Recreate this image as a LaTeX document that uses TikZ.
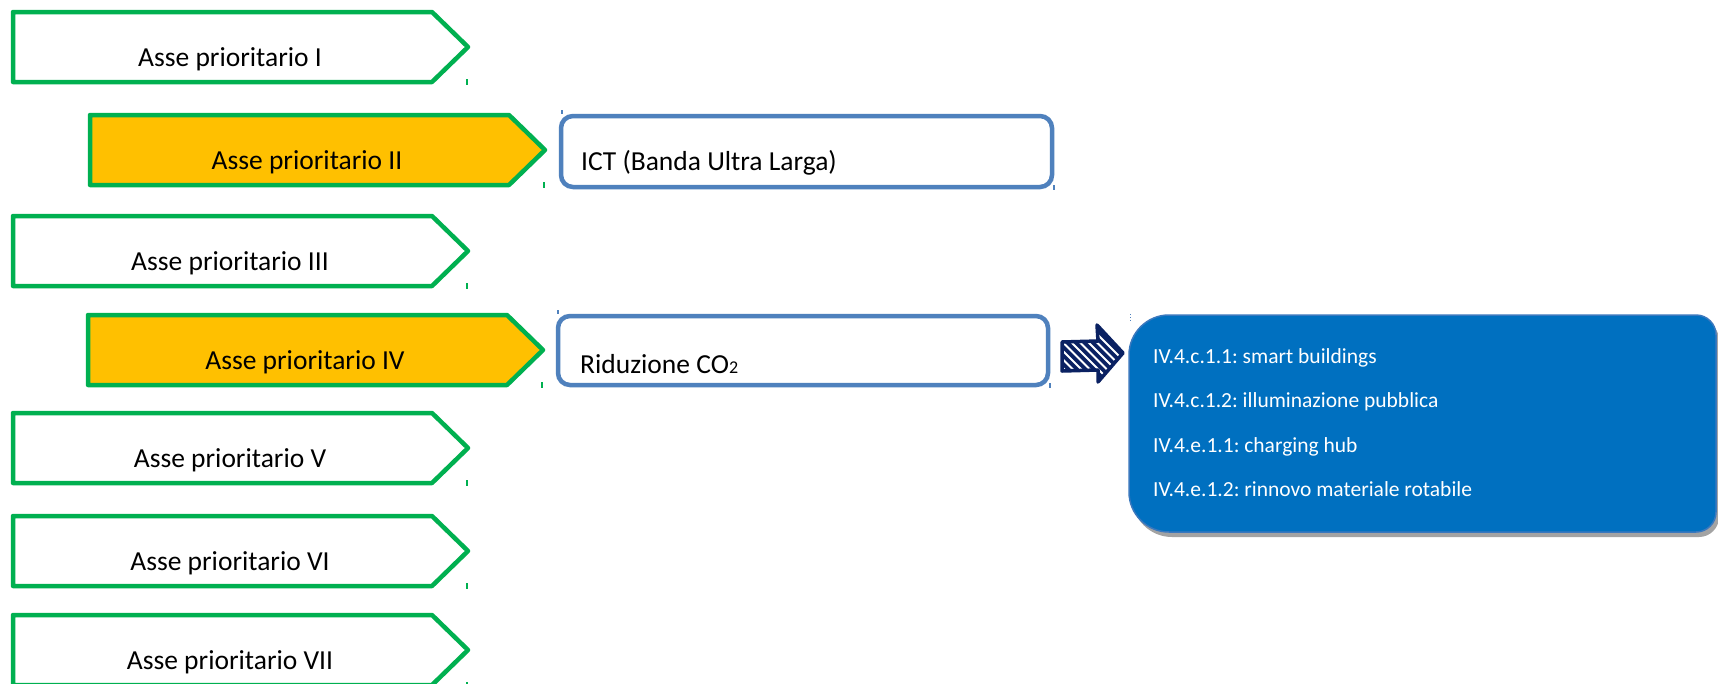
\documentclass[tikz,border=0pt]{standalone}
\usepackage{fontspec}
\setmainfont{Carlito}
\frenchspacing
\definecolor{agreen}{HTML}{00B050}
\definecolor{aorange}{HTML}{FFC000}
\definecolor{bline}{HTML}{4F81BD}
\definecolor{boxblue}{HTML}{0070C0}
\definecolor{boxedge}{HTML}{3A78BE}
\definecolor{navy}{HTML}{0A2162}
\definecolor{shadowgray}{HTML}{A3A3A3}
\newcommand\asse[5]{%
  \draw[pent, fill=#4] (#2,#3) -- ++(419,0) -- ++(36,35) -- ++(-36,35) -- ++(-419,0) -- cycle;
  \node[axtext] (#1) at (#2+217,#3+54) {#5};
  \draw[gtick] (#2+454,#3+67) -- (#2+454,#3+73);
}
\begin{document}
\begin{tikzpicture}[x=1pt,y=-1pt,
  pent/.style={draw=agreen, line width=4.5pt, line join=round},
  axtext/.style={anchor=base, inner sep=0pt, text=black, font=\fontsize{27.5}{33}\selectfont},
  gtick/.style={draw=agreen, line width=1.2pt},
  btick/.style={draw=bline, line width=1.2pt},
  rbox/.style={draw=bline, line width=4.5pt, rounded corners=12pt, inner sep=0pt, outer sep=0pt, anchor=north west, fill=white},
  rtext/.style={anchor=base west, inner sep=0pt, text=black, font=\fontsize{27.5}{33}\selectfont},
  btext/.style={anchor=base west, inner sep=0pt, text=white, font=\fontsize{21.5}{26}\selectfont},
  arrowline/.style={draw=navy, line width=3.5pt, line join=round}]
\useasboundingbox (0,0) rectangle (1718,683);
\fill[white] (0,0) rectangle (1718,683);

% priority axes
\asse{a1}{13}{12}{white}{Asse prioritario I}
\asse{a2}{90}{115}{aorange}{Asse prioritario II}
\asse{a3}{13}{216}{white}{Asse prioritario III}
\asse{a4}{88}{315}{aorange}{Asse prioritario IV}
\asse{a5}{13}{413}{white}{Asse prioritario V}
\asse{a6}{13}{516}{white}{Asse prioritario VI}
\asse{a7}{13}{615}{white}{Asse prioritario VII}

% ICT box
\node[rbox, minimum width=491pt, minimum height=71pt] (ictbox) at (561,116) {};
\node[rtext] (ict) at (581,170) {ICT (Banda Ultra Larga)};
\draw[btick] (562,110) -- (562,114);
\draw[btick] (1054,185) -- (1054,190);

% Riduzione box
\node[rbox, minimum width=490pt, minimum height=69pt] (redbox) at (558,316) {};
\node[rtext] (red) at (580,373) {Riduzione CO{\fontsize{18}{20}\selectfont 2}};
\draw[btick] (558,310) -- (558,314);
\draw[btick] (1050,383) -- (1050,388);

% hatched arrow
\begin{scope}
  \clip (1062,342) -- (1098,341) -- (1097,325) -- (1123,353) -- (1098,382) -- (1098,370) -- (1062,371) -- cycle;
  \fill[navy] (1055,320) rectangle (1130,390);
  \foreach \k in {0,...,14} \draw[white, line width=2pt] (998+\k*8.5,320) -- ++(72,72);
\end{scope}
\draw[arrowline] (1062,342) -- (1098,341) -- (1097,325) -- (1123,353) -- (1098,382) -- (1098,370) -- (1062,371) -- cycle;

% blue box with shadow
\fill[shadowgray, shift={(3,5)}] (1129,355) arc[start angle=180,end angle=270,radius=40] -- (1696,315) arc[start angle=270,end angle=360,radius=20] -- (1716,512) arc[start angle=0,end angle=90,radius=20] -- (1169,532) arc[start angle=90,end angle=180,radius=40] -- cycle;
\path[fill=boxblue, draw=boxedge, line width=1.5pt] (1129,355) arc[start angle=180,end angle=270,radius=40] -- (1696,315) arc[start angle=270,end angle=360,radius=20] -- (1716,512) arc[start angle=0,end angle=90,radius=20] -- (1169,532) arc[start angle=90,end angle=180,radius=40] -- cycle;
\draw[bline, line width=1pt, dotted] (1130,314) -- (1130,322);
\node[btext] (b1) at (1153,363) {IV.4.c.1.1: smart buildings};
\node[btext] (b2) at (1153,407.5) {IV.4.c.1.2: illuminazione pubblica};
\node[btext] (b3) at (1153,452) {IV.4.e.1.1: charging hub};
\node[btext] (b4) at (1153,496.5) {IV.4.e.1.2: rinnovo materiale rotabile};
\end{tikzpicture}
\end{document}
